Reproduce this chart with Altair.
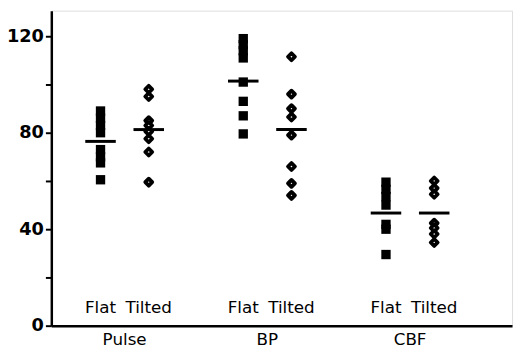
import altair as alt
import pandas as pd

measures = ["Pulse", "BP", "CBF"]
conditions = ["Flat", "Tilted"]

pulse_flat = [89, 86, 83, 80, 73, 70, 67.5, 60.5]
pulse_tilted = [98, 95, 85, 83, 80.5, 77.5, 72, 59.5]
bp_flat = [119, 116.5, 114, 111, 101, 93, 87, 79.5]
bp_tilted = [111.5, 96, 90, 86.5, 79, 66, 59, 54]
cbf_flat = [59.5, 56.5, 53.5, 50, 42, 40, 29.5]
cbf_tilted = [60, 57, 54.5, 42.5, 40.5, 38, 34.5]

mean_flat = [76.4, 101.4, 46.7]
mean_tilted = [81.3, 81.3, 46.7]

series = {
    ("Pulse", "Flat"): pulse_flat,
    ("Pulse", "Tilted"): pulse_tilted,
    ("BP", "Flat"): bp_flat,
    ("BP", "Tilted"): bp_tilted,
    ("CBF", "Flat"): cbf_flat,
    ("CBF", "Tilted"): cbf_tilted,
}

rows = []
for (m, c), vals in series.items():
    for v in vals:
        rows.append({"measure": m, "condition": c, "value": v})
df = pd.DataFrame(rows)

mean_rows = []
for i, m in enumerate(measures):
    mean_rows.append({"measure": m, "condition": "Flat", "value": mean_flat[i]})
    mean_rows.append({"measure": m, "condition": "Tilted", "value": mean_tilted[i]})
mdf = pd.DataFrame(mean_rows)

ldf = pd.DataFrame([{"measure": m, "condition": c} for m in measures for c in conditions])

FONT = "DejaVu Sans"

x_enc = alt.X(
    "measure:N",
    sort=measures,
    scale=alt.Scale(paddingInner=0, paddingOuter=0.114, align=0.06),
    axis=alt.Axis(
        title=None, ticks=False, tickSize=0, labelAngle=0, labelPadding=6,
        domainColor="black", domainWidth=2.5, labelColor="black",
        labelFont=FONT, labelFontSize=17, grid=False,
    ),
)
xo_enc = alt.XOffset(
    "condition:N", sort=conditions,
    scale=alt.Scale(paddingInner=0, paddingOuter=0.48),
)
y_scale = alt.Scale(domain=[0, 130.6], nice=False, zero=True)
y_enc = alt.Y(
    "value:Q",
    scale=y_scale,
    axis=alt.Axis(
        title=None, values=[0, 20, 40, 60, 80, 100, 120],
        labelExpr="datum.value % 40 == 0 ? datum.label : ''",
        tickSize=6, tickWidth=2, tickColor="black",
        domainColor="black", domainWidth=2.5,
        labelFont=FONT, labelFontWeight="bold", labelFontSize=18,
        labelColor="black", labelPadding=2, grid=False,
    ),
)

base = alt.Chart(df)

squares = base.transform_filter(alt.datum.condition == "Flat").mark_square(
    size=90, color="black", opacity=1
).encode(x=x_enc, xOffset=xo_enc, y=y_enc)

diamonds = base.transform_filter(alt.datum.condition == "Tilted").mark_point(
    shape="diamond", size=50, filled=False, fill="white", fillOpacity=1,
    stroke="black", strokeWidth=3.8, strokeJoin="round", opacity=1
).encode(x=x_enc, xOffset=xo_enc, y=y_enc)

means = alt.Chart(mdf).mark_tick(
    color="black", size=31, thickness=3, opacity=1
).encode(x=x_enc, xOffset=xo_enc, y=y_enc)

labels = alt.Chart(ldf).mark_text(
    font=FONT, fontSize=17, color="black", baseline="middle", align="center"
).encode(x=x_enc, xOffset=xo_enc, y=alt.value(302), text="condition:N")

chart = alt.layer(squares, diamonds, means, labels).properties(
    width=468, height=320,
    autosize=alt.AutoSizeParams(type="none"),
    padding={"left": 44, "top": 0, "right": 3, "bottom": 22},
).configure_view(stroke=None).configure(background="white")

chart.save("out.html", embed_options={"renderer": "svg", "actions": False})
